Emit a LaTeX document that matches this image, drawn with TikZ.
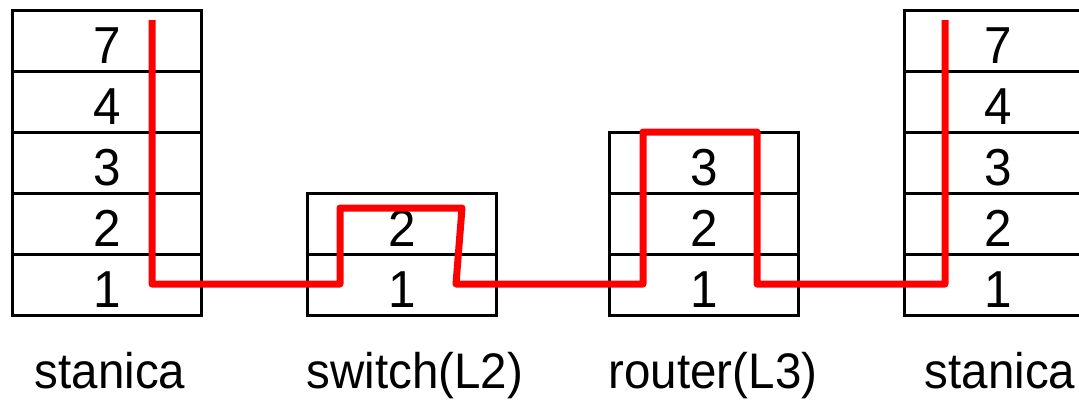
\documentclass[tikz,border=0pt]{standalone}
\usepackage{fontspec}
\setmainfont{Liberation Sans}[FakeStretch=0.95]
\begin{document}
\begin{tikzpicture}[x=1pt,y=-1pt,
  layer/.style={draw=black,line width=3pt,minimum width=189pt,minimum height=61pt,
    inner sep=0pt,outer sep=0pt,text height=45pt,text depth=0pt,
    font=\fontsize{52}{60}\selectfont},
  lbl/.style={font=\fontsize{50}{58}\selectfont,anchor=base,inner sep=0pt},
  route/.style={draw=red,line width=7pt,line join=round}]
\useasboundingbox (0,0) rectangle (1079,399);
\clip (0,0) rectangle (1079,399);
% left station
\node[layer] (ls7) at (107,40.5) {7};
\node[layer] (ls4) at (107,101.5) {4};
\node[layer] (ls3) at (107,162.5) {3};
\node[layer] (ls2) at (107,223.5) {2};
\node[layer] (ls1) at (107,284.5) {1};
% switch
\node[layer] (sw2) at (402,223.5) {2};
\node[layer] (sw1) at (402,284.5) {1};
% router
\node[layer] (ro3) at (704,162.5) {3};
\node[layer] (ro2) at (704,223.5) {2};
\node[layer] (ro1) at (704,284.5) {1};
% right station
\node[layer] (rs7) at (998.5,40.5) {7};
\node[layer] (rs4) at (998.5,101.5) {4};
\node[layer] (rs3) at (998.5,162.5) {3};
\node[layer] (rs2) at (998.5,223.5) {2};
\node[layer] (rs1) at (998.5,284.5) {1};
% labels
\node[lbl] (lab1) at (110,388) {stanica};
\node[lbl] (lab2) at (415,388) {switch(L2)};
\node[lbl] (lab3) at (713,388) {router(L3)};
\node[lbl] (lab4) at (1000,388) {stanica};
% route coordinates
\coordinate (p0) at (152,20);
\coordinate (p1) at (152,284);
\coordinate (p2) at (340,284);
\coordinate (p3) at (340,208);
\coordinate (p4) at (462,208);
\coordinate (p5) at (456,284);
\coordinate (p6) at (643,284);
\coordinate (p7) at (643,132);
\coordinate (p8) at (757,132);
\coordinate (p9) at (757,284);
\coordinate (p10) at (945,284);
\coordinate (p11) at (945,20);
\draw[route] (p0) -- (p1) -- (p2) -- (p3) -- (p4) -- (p5) -- (p6) -- (p7) -- (p8) -- (p9) -- (p10) -- (p11);
\end{tikzpicture}
\end{document}
